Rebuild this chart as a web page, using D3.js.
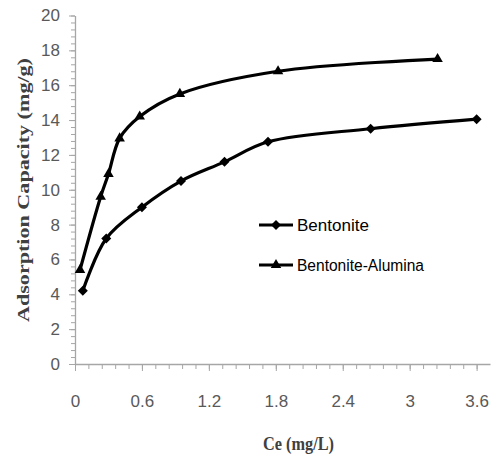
<!DOCTYPE html>
<html><head><meta charset="utf-8">
<script src="https://cdn.jsdelivr.net/npm/d3@7"></script>
<style>body{margin:0;background:#fff}svg{display:block}</style>
</head><body>
<svg id="c" width="492" height="454"></svg>
<script>
const bentoniteX = [0.07, 0.28, 0.6, 0.95, 1.34, 1.73, 2.65, 3.6];
const bentoniteY = [4.2, 7.2, 9.0, 10.5, 11.6, 12.75, 13.5, 14.05];
const aluminaX = [0.045, 0.23, 0.30, 0.40, 0.58, 0.94, 1.82, 3.25];
const aluminaY = [5.4, 9.6, 10.9, 12.95, 14.2, 15.5, 16.8, 17.5];
const xMajorTicks = [0, 0.6, 1.2, 1.8, 2.4, 3, 3.6];
const yMajorTicks = [0, 2, 4, 6, 8, 10, 12, 14, 16, 18, 20];
const seriesNames = ["Bentonite", "Bentonite-Alumina"];

const svg = d3.select("#c");
const x = d3.scaleLinear().domain([0, 3.72]).range([75, 490]);
const y = d3.scaleLinear().domain([0, 20]).range([364, 15.5]);
const axisColor = "#a6a6a6", labelColor = "#595959";

const xMinor = d3.range(0, 31).map(i => +(i * 0.12).toFixed(2));
const yMinor = d3.range(0, 51).map(i => +(i * 0.4).toFixed(1));

// minor ticks
svg.append("g").attr("transform", "translate(0,364)")
  .call(d3.axisBottom(x).tickValues(xMinor).tickSize(5).tickFormat(""))
  .call(g => g.select(".domain").remove())
  .call(g => g.selectAll("line").attr("stroke", axisColor));
svg.append("g").attr("transform", "translate(75,0)")
  .call(d3.axisLeft(y).tickValues(yMinor).tickSize(4).tickFormat(""))
  .call(g => g.select(".domain").remove())
  .call(g => g.selectAll("line").attr("stroke", axisColor));

// major axes
const xa = svg.append("g").attr("transform", "translate(0,364)")
  .call(d3.axisBottom(x).tickValues(xMajorTicks).tickSize(7).tickPadding(24).tickSizeOuter(0)
    .tickFormat(d => String(d)));
const ya = svg.append("g").attr("transform", "translate(75,0)")
  .call(d3.axisLeft(y).tickValues(yMajorTicks).tickSize(6).tickPadding(9).tickSizeOuter(0)
    .tickFormat(d => String(d)));
[xa, ya].forEach(g => {
  g.select(".domain").attr("stroke", axisColor).attr("stroke-width", 1.3);
  g.selectAll("line").attr("stroke", axisColor);
  g.selectAll("text").attr("fill", labelColor)
    .style("font-family", "'Liberation Sans', Arial, sans-serif").style("font-size", "17px");
});

const line = d3.line().x(d => x(d[0])).y(d => y(d[1])).curve(d3.curveCatmullRom.alpha(0.5));
const bent = bentoniteX.map((v, i) => [v, bentoniteY[i]]);
const alum = aluminaX.map((v, i) => [v, aluminaY[i]]);

const diamond = (s) => `M0,${-s}L${s},0L0,${s}L${-s},0Z`;
const tri = d3.symbol().type(d3.symbolTriangle).size(48)();

[bent, alum].forEach((data, k) => {
  svg.append("path").attr("d", line(data)).attr("fill", "none")
    .attr("stroke", "#000").attr("stroke-width", 3.2);
  svg.selectAll(null).data(data).enter().append("path")
    .attr("transform", d => `translate(${x(d[0])},${y(d[1])})`)
    .attr("d", k === 0 ? diamond(5) : tri).attr("fill", "#000");
});

// legend
const ly = [225, 265];
seriesNames.forEach((name, k) => {
  svg.append("line").attr("x1", 259).attr("x2", 293).attr("y1", ly[k]).attr("y2", ly[k])
    .attr("stroke", "#000").attr("stroke-width", 3.2);
  svg.append("path").attr("transform", `translate(276,${ly[k]})`)
    .attr("d", k === 0 ? diamond(5) : tri).attr("fill", "#000");
  svg.append("text").attr("x", 297).attr("y", ly[k] + 6).text(name)
    .attr("fill", "#000").style("font-family", "'Liberation Sans', Arial, sans-serif")
    .style("font-size", "16px").attr("textLength", k === 0 ? 72 : 127)
    .attr("lengthAdjust", "spacingAndGlyphs");
});

// axis titles
svg.append("text").attr("transform", "translate(29,190) rotate(-90)")
  .attr("text-anchor", "middle").text("Adsorption Capacity (mg/g)")
  .attr("fill", "#404040").style("font-family", "'Liberation Serif', 'Times New Roman', serif")
  .style("font-weight", "bold").style("font-size", "16.5px")
  .attr("textLength", 264).attr("lengthAdjust", "spacingAndGlyphs");
svg.append("text").attr("x", 298.5).attr("y", 450).attr("text-anchor", "middle").text("Ce (mg/L)")
  .attr("fill", "#404040").style("font-family", "'Liberation Serif', 'Times New Roman', serif")
  .style("font-weight", "bold").style("font-size", "18px")
  .attr("textLength", 71).attr("lengthAdjust", "spacingAndGlyphs");
</script>
</body></html>
